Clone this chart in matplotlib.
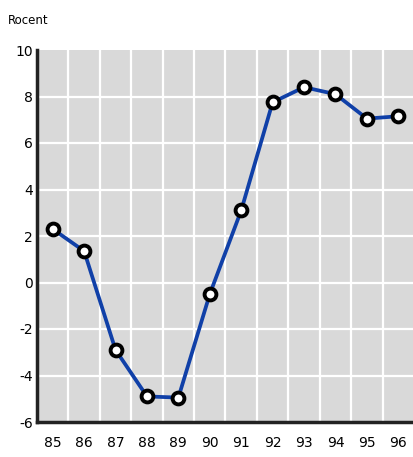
import matplotlib
matplotlib.use("Agg")
import matplotlib.pyplot as plt

years = ["85", "86", "87", "88", "89", "90", "91", "92", "93", "94", "95", "96"]
values = [2.3, 1.35, -2.9, -4.9, -4.95, -0.5, 3.1, 7.75, 8.4, 8.1, 7.05, 7.15]
yticks = [-6, -4, -2, 0, 2, 4, 6, 8, 10]

fig = plt.figure(figsize=(4.14, 4.57), dpi=100)
ax = fig.add_axes([37/414, 1-422/457, 1-37/414, (422-50)/457])
ax.set_facecolor("#d9d9d9")

x = list(range(len(years)))
ax.plot(x, values, color="#1040a8", lw=2.7, zorder=3)
ax.plot(x, values, ls="none", marker="o", ms=8.5, mfc="white", mec="black",
        mew=2.8, zorder=4)

ax.set_xlim(-0.5, len(years) - 0.5)
ax.set_ylim(-6, 10)
ax.set_yticks(yticks)
ax.set_yticklabels([str(v) for v in yticks])
ax.set_xticks(x)
ax.set_xticklabels(years)

ax.grid(False)
for xv in [i + 0.5 for i in x[:-1]]:
    ax.axvline(xv, color="white", lw=1.6, zorder=1)
for yv in yticks[1:-1]:
    ax.axhline(yv, color="white", lw=1.6, zorder=1)

for s in ["top", "right"]:
    ax.spines[s].set_visible(False)
ax.spines["left"].set_color("#222222")
ax.spines["left"].set_linewidth(2.5)
ax.spines["bottom"].set_color("#222222")
ax.spines["bottom"].set_linewidth(2.5)
ax.tick_params(axis="both", which="both", length=0, labelsize=10, colors="black")
ax.tick_params(axis="x", pad=10)
ax.tick_params(axis="y", pad=3)

fig.text(8/414, 1-20/457, "Rocent", fontsize=8.5, va="center", ha="left")

fig.savefig("out.png", dpi=100)
